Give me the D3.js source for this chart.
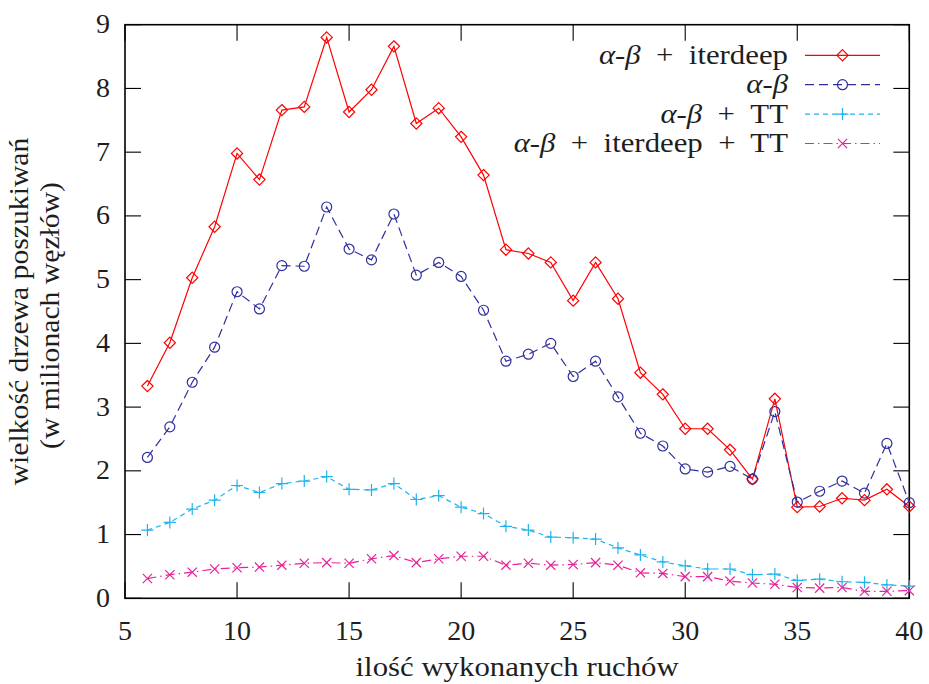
<!DOCTYPE html>
<meta charset="utf-8">
<html><body style="margin:0">
<script src="https://d3js.org/d3.v7.min.js"></script>
<script>
// moves on the x axis
var moves = [6,7,8,9,10,11,12,13,14,15,16,17,18,19,20,21,22,23,24,25,26,27,28,29,30,31,32,33,34,35,36,37,38,39,40]

// tree size in millions of nodes, one array per algorithm
var abIter   = [3.33,4.01,5.03,5.83,6.98,6.57,7.66,7.71,8.80,7.63,7.98,8.66,7.45,7.69,7.24,6.64,5.47,5.41,5.27,4.67,5.27,4.70,3.54,3.20,2.66,2.66,2.33,1.87,3.13,1.43,1.44,1.57,1.54,1.71,1.44]
var ab       = [2.21,2.69,3.39,3.94,4.81,4.54,5.22,5.21,6.14,5.48,5.31,6.03,5.07,5.27,5.05,4.52,3.72,3.83,4.00,3.48,3.72,3.16,2.59,2.39,2.03,1.98,2.07,1.87,2.93,1.51,1.68,1.84,1.65,2.43,1.50]
var abTT     = [1.07,1.19,1.40,1.54,1.77,1.66,1.80,1.84,1.91,1.71,1.70,1.80,1.55,1.61,1.43,1.33,1.13,1.07,0.96,0.95,0.93,0.79,0.68,0.57,0.51,0.46,0.46,0.37,0.38,0.28,0.30,0.26,0.25,0.21,0.19]
var abIterTT = [0.31,0.37,0.41,0.46,0.48,0.49,0.52,0.55,0.56,0.55,0.62,0.67,0.56,0.62,0.66,0.66,0.52,0.55,0.52,0.53,0.56,0.52,0.40,0.39,0.34,0.34,0.27,0.24,0.22,0.17,0.16,0.17,0.11,0.11,0.12]

var xTicks = [5,10,15,20,25,30,35,40]
var yTicks = [0,1,2,3,4,5,6,7,8,9]

// legend labels (after the italic alpha-beta)
var seriesNames = [" + iterdeep", "", " + TT", " + iterdeep + TT"]

var series = [
  {values: abIter,   name: seriesNames[0], color: "#ff0000", dash: null,         marker: "diamond"},
  {values: ab,       name: seriesNames[1], color: "#2f2f9d", dash: "9,5",        marker: "circle"},
  {values: abTT,     name: seriesNames[2], color: "#1fb3ee", dash: "5,4",        marker: "plus"},
  {values: abIterTT, name: seriesNames[3], color: "#e8229a", dash: "9,4,1.5,4",  marker: "cross"}
]

var W = 929, H = 684
var margin = {top: 24.7, right: 19.7, bottom: 85.7, left: 125},
    width = W - margin.left - margin.right,
    height = H - margin.top - margin.bottom

var fs = 28
var wide = 1.1   // Liberation Serif is narrower than the LaTeX font of the original

var root = d3.select("body").append("svg")
    .attr("width", W).attr("height", H)
    .attr("font-family", "Liberation Serif")

// plain text straight on the svg, positioned in page coordinates
function label(px, py, tf) {
  return root.append("text")
    .attr("x", px).attr("y", py)
    .attr("transform", tf ? "translate(" + px + "," + py + ")" + tf + " translate(" + (-px) + "," + (-py) + ")" : null)
    .attr("font-family", "Liberation Serif")
    .style("font-family", "Liberation Serif")
    .style("font-size", fs + "px")
    .attr("fill", "#1e1e1e")
}

var svg = root.append("g")
    .attr("transform", "translate(" + margin.left + "," + margin.top + ")")

var x = d3.scaleLinear().domain([5, 40]).range([0, width])
var y = d3.scaleLinear().domain([0, 9]).range([height, 0])

var tickLen = 16

// ticks on all four sides, pointing inwards
var ax = svg.append("g").attr("stroke", "#000").attr("stroke-width", 1.1)
xTicks.forEach(function(t) {
  ax.append("line").attr("x1", x(t)).attr("x2", x(t)).attr("y1", height).attr("y2", height - tickLen)
  ax.append("line").attr("x1", x(t)).attr("x2", x(t)).attr("y1", 0).attr("y2", tickLen)
})
yTicks.forEach(function(t) {
  ax.append("line").attr("x1", 0).attr("x2", tickLen).attr("y1", y(t)).attr("y2", y(t))
  ax.append("line").attr("x1", width).attr("x2", width - tickLen).attr("y1", y(t)).attr("y2", y(t))
})

svg.append("rect")
    .attr("width", width).attr("height", height)
    .attr("fill", "none").attr("stroke", "#000").attr("stroke-width", 1.6)

// tick labels
xTicks.forEach(function(t) {
  label(margin.left + x(t), margin.top + height + 42).attr("text-anchor", "middle").text(t)
})
yTicks.forEach(function(t) {
  label(margin.left - 15, margin.top + y(t) + 8.5).attr("text-anchor", "end").text(t)
})

// axis titles
label(margin.left + width / 2, margin.top + height + 78, " scale(" + wide + ",1)")
    .attr("text-anchor", "middle")
    .text("ilość wykonanych ruchów")
label(28, margin.top + height / 2, " rotate(-90) scale(1.06,1)")
    .attr("text-anchor", "middle")
    .text("wielkość drzewa poszukiwań")
label(59, margin.top + height / 2 + 4, " rotate(-90) scale(1.06,1)")
    .attr("text-anchor", "middle")
    .text("(w milionach węzłów)")

// markers
function marker(sel, type) {
  if (type == "circle") {
    sel.append("circle").attr("r", 5)
  } else {
    var p = {
      diamond: "M0,-5.6L5.6,0L0,5.6L-5.6,0Z",
      plus: "M-6,0H6M0,-6V6",
      cross: "M-4.6,-4.6L4.6,4.6M-4.6,4.6L4.6,-4.6"
    }[type]
    sel.append("path").attr("d", p)
  }
}

var line = d3.line()
  .x(function(d) { return x(d[0]) })
  .y(function(d) { return y(d[1]) })

series.forEach(function(s) {
  var pts = moves.map(function(m, i) { return [m, s.values[i]] })
  svg.append("path")
    .datum(pts)
    .attr("d", line)
    .attr("fill", "none")
    .attr("stroke", s.color)
    .attr("stroke-width", 1.2)
    .attr("stroke-dasharray", s.dash)
  var g = svg.append("g").attr("fill", "none").attr("stroke", s.color).attr("stroke-width", 1.2)
  pts.forEach(function(p) {
    marker(g.append("g").attr("transform", "translate(" + x(p[0]) + "," + y(p[1]) + ")"), s.marker)
  })
})

// legend, with math-like spacing round the plus signs
var legX = 663, legY = 30.6, legStep = 29.4
series.forEach(function(s, i) {
  var ly = legY + i * legStep
  var t = label(margin.left + legX, margin.top + ly + 8.5, " scale(" + wide + ",1)")
    .attr("text-anchor", "end")
  t.append("tspan").style("font-style", "italic").text("α")
  t.append("tspan").text("-")
  t.append("tspan").style("font-style", "italic").text("β")
  var parts = s.name.split("+")
  if (parts[0]) t.append("tspan").text(parts[0])
  for (var k = 1; k < parts.length; k++) {
    t.append("tspan").attr("dx", 7).text("+")
    t.append("tspan").attr("dx", 7).text(parts[k])
  }
  svg.append("line")
    .attr("x1", legX + 17).attr("x2", legX + 92)
    .attr("y1", ly).attr("y2", ly)
    .attr("stroke", s.color).attr("stroke-width", 1.2)
    .attr("stroke-dasharray", s.dash)
  var g = svg.append("g").attr("fill", "none").attr("stroke", s.color).attr("stroke-width", 1.2)
  marker(g.append("g").attr("transform", "translate(" + (legX + 54.5) + "," + ly + ")"), s.marker)
})
</script>
</body></html>
